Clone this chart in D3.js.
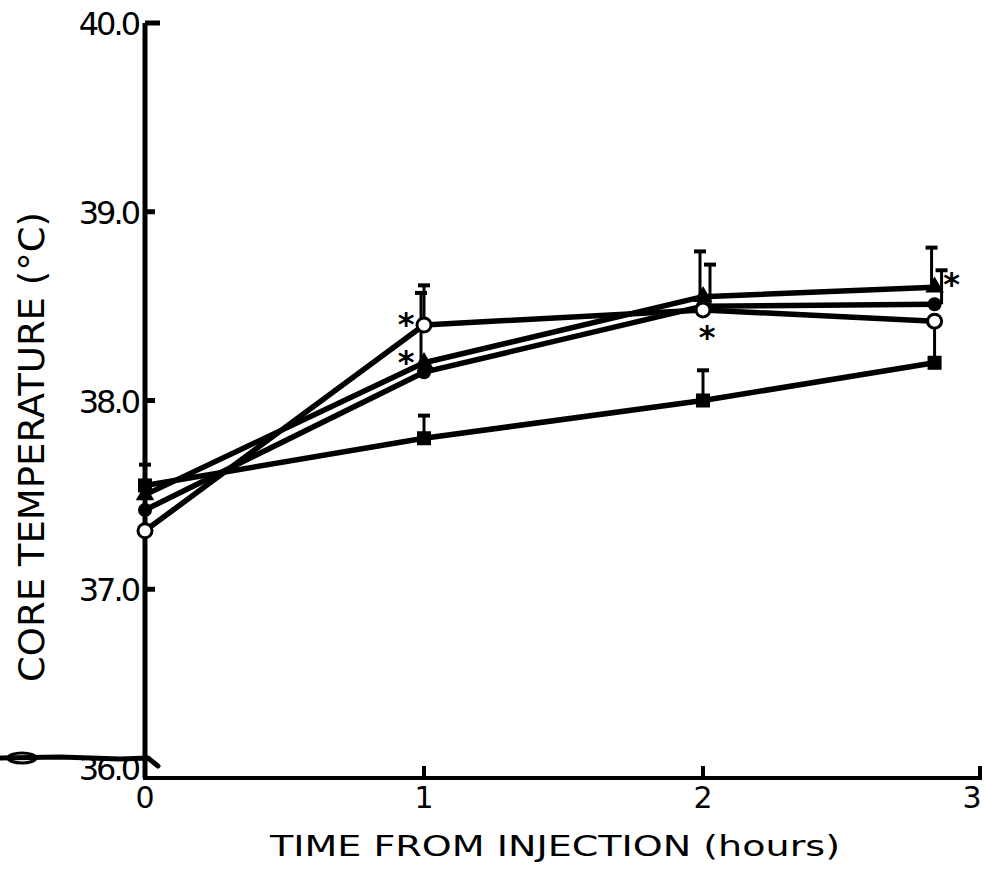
<!DOCTYPE html>
<html>
<head>
<meta charset="utf-8">
<script src="https://cdn.jsdelivr.net/npm/d3@7"></script>
<style>
  body { margin: 0; background: #fff; }
  svg { display: block; }
</style>
</head>
<body>
<div id="chart"></div>
<script>
// hours after injection (last reading taken a bit before 3 h)
const hours = [0, 1, 2, 2.83];

// core temperature, deg C, and the upward SEM bar of each group
const squareTemp   = [37.55, 37.80, 38.00, 38.20];
const squareSem    = [0.11, 0.12, 0.16, 0.20];
const triangleTemp = [37.50, 38.20, 38.55, 38.60];
const triangleSem  = [0.00, 0.37, 0.24, 0.21];
const filledTemp   = [37.42, 38.15, 38.50, 38.51];
const filledSem    = [0.00, 0.00, 0.22, 0.18];
const openTemp     = [37.31, 38.40, 38.48, 38.42];
const openSem      = [0.00, 0.21, 0.00, 0.00];

// significance marks: [hour, temperature of the point, side]
const stars = [[1, 38.40, "left"], [1, 38.20, "left"], [2, 38.48, "below"], [2.83, 38.60, "right"]];

const yTicks = [36, 37, 38, 39, 40];
const xTicks = [0, 1, 2, 3];

const W = 985, H = 869;

const x = d3.scaleLinear().domain([0, 3]).range([145, 982]);
const y = d3.scaleLinear().domain([36, 40]).range([778, 23]);

const svg = d3.select("#chart").append("svg")
    .attr("width", W)
    .attr("height", H);

const font = "'DejaVu Sans', sans-serif";

const series = [
    { name: "square",   temp: squareTemp,   sem: squareSem,   dx: 0 },
    { name: "triangle", temp: triangleTemp, sem: triangleSem, dx: -3 },
    { name: "filled",   temp: filledTemp,   sem: filledSem,   dx: 7 },
    { name: "open",     temp: openTemp,     sem: openSem,     dx: 0 }
];

// scanner smear at the left of the baseline
svg.append("path")
    .attr("d", d3.line()([[0, y(36) - 20], [60, y(36) - 21], [120, y(36) - 19], [148, y(36) - 20], [158, y(36) - 12]]))
    .attr("fill", "none")
    .attr("stroke", "#000")
    .attr("stroke-width", 5)
    .attr("stroke-linecap", "round");
svg.append("ellipse")
    .attr("cx", 22).attr("cy", y(36) - 20)
    .attr("rx", 14).attr("ry", 5)
    .attr("fill", "none").attr("stroke", "#000").attr("stroke-width", 3);

// axes
const axes = svg.append("g");
axes.append("line")
    .attr("x1", x(0)).attr("x2", x(0))
    .attr("y1", y(40)).attr("y2", y(36))
    .attr("stroke", "#000").attr("stroke-width", 5);
axes.append("line")
    .attr("x1", x(0) - 2).attr("x2", x(3))
    .attr("y1", y(36)).attr("y2", y(36))
    .attr("stroke", "#000").attr("stroke-width", 4);

axes.selectAll(".ytick")
    .data(yTicks.filter(d => d > 36))
    .join("line")
    .attr("x1", x(0)).attr("x2", d => x(0) + (d === 40 ? 15 : 10))
    .attr("y1", d => y(d)).attr("y2", d => y(d))
    .attr("stroke", "#000").attr("stroke-width", 5);

axes.selectAll(".xtick")
    .data(xTicks.filter(d => d > 0))
    .join("line")
    .attr("x1", d => x(d) - (d === 3 ? 2 : 0)).attr("x2", d => x(d) - (d === 3 ? 2 : 0))
    .attr("y1", y(36)).attr("y2", y(36) - 12)
    .attr("stroke", "#000").attr("stroke-width", 4);

axes.selectAll(".ylabel")
    .data(yTicks)
    .join("text")
    .attr("x", x(0) - 7)
    .attr("y", d => d === 36 ? y(36) + 2 : y(d) + 12)
    .attr("text-anchor", "end")
    .style("font-family", font)
    .style("font-size", "32px")
    .style("letter-spacing", "-3px")
    .text(d => d.toFixed(1));

axes.selectAll(".xlabel")
    .data(xTicks)
    .join("text")
    .attr("x", d => d === 3 ? x(d) - 10 : x(d))
    .attr("y", y(36) + 30)
    .attr("text-anchor", "middle")
    .style("font-family", font)
    .style("font-size", "30px")
    .text(d => d);

svg.append("text")
    .attr("x", 555)
    .attr("y", 856)
    .attr("text-anchor", "middle")
    .attr("textLength", 570)
    .attr("lengthAdjust", "spacingAndGlyphs")
    .style("font-family", font)
    .style("font-size", "28px")
    .text("TIME FROM INJECTION  (hours)");

svg.append("text")
    .attr("transform", `translate(44, 447) rotate(-90)`)
    .attr("text-anchor", "middle")
    .attr("textLength", 470)
    .attr("lengthAdjust", "spacingAndGlyphs")
    .style("font-family", font)
    .style("font-size", "36px")
    .text("CORE TEMPERATURE (°C)");

// lines
const line = d3.line()
    .x((d, i) => x(hours[i]))
    .y(d => y(d));

const plot = svg.append("g");

plot.selectAll(".series")
    .data(series)
    .join("path")
    .attr("d", d => line(d.temp))
    .attr("fill", "none")
    .attr("stroke", "#000")
    .attr("stroke-width", 5.5)
    .attr("stroke-linejoin", "round");

// error bars (upward only)
series.forEach(s => {
    const bars = s.temp.map((v, i) => ({ t: hours[i], v: v, e: s.sem[i] })).filter(d => d.e > 0);
    const g = plot.append("g");
    g.selectAll("line.bar")
        .data(bars)
        .join("line")
        .attr("x1", d => x(d.t) + s.dx).attr("x2", d => x(d.t) + s.dx)
        .attr("y1", d => y(d.v)).attr("y2", d => y(d.v + d.e))
        .attr("stroke", "#000").attr("stroke-width", 3);
    g.selectAll("line.cap")
        .data(bars)
        .join("line")
        .attr("x1", d => x(d.t) + s.dx - 6).attr("x2", d => x(d.t) + s.dx + 6)
        .attr("y1", d => y(d.v + d.e)).attr("y2", d => y(d.v + d.e))
        .attr("stroke", "#000").attr("stroke-width", 4);
});

// markers
const pts = s => s.temp.map((v, i) => ({ t: hours[i], v: v }));

plot.append("g").selectAll("rect")
    .data(pts(series[0]))
    .join("rect")
    .attr("x", d => x(d.t) - 7).attr("y", d => y(d.v) - 7)
    .attr("width", 14).attr("height", 14)
    .attr("fill", "#000");

plot.append("g").selectAll("path")
    .data(pts(series[1]))
    .join("path")
    .attr("transform", d => `translate(${x(d.t)},${y(d.v)})`)
    .attr("d", d3.symbol(d3.symbolTriangle, 150))
    .attr("fill", "#000");

plot.append("g").selectAll("circle")
    .data(pts(series[2]))
    .join("circle")
    .attr("cx", d => x(d.t)).attr("cy", d => y(d.v))
    .attr("r", 7)
    .attr("fill", "#000");

plot.append("g").selectAll("circle")
    .data(pts(series[3]))
    .join("circle")
    .attr("cx", d => x(d.t)).attr("cy", d => y(d.v))
    .attr("r", 7)
    .attr("fill", "#fff")
    .attr("stroke", "#000")
    .attr("stroke-width", 3);

// asterisks
plot.append("g").selectAll("text")
    .data(stars)
    .join("text")
    .attr("x", d => x(d[0]) + (d[2] === "left" ? -18 : d[2] === "right" ? 17 : 4))
    .attr("y", d => y(d[1]) + (d[2] === "below" ? 38 : d[2] === "right" ? 8 : 10))
    .attr("text-anchor", "middle")
    .style("font-family", font)
    .style("font-size", "32px")
    .style("font-weight", "bold")
    .text("*");
</script>
</body>
</html>
